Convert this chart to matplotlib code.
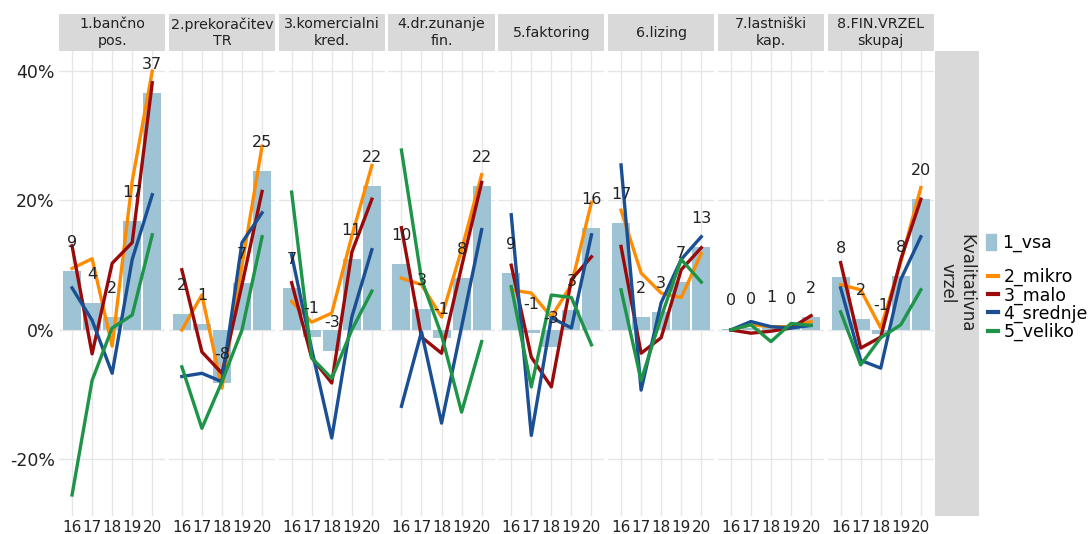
import numpy as np
import matplotlib.pyplot as plt
from matplotlib.patches import Patch
from matplotlib.lines import Line2D

plt.rcParams['font.family'] = ['DejaVu Sans']

# years on the x axis (20xx)
years = [16, 17, 18, 19, 20]

panels = ["1.bančno\npos.", "2.prekoračitev\nTR", "3.komercialni\nkred.",
          "4.dr.zunanje\nfin.", "5.faktoring", "6.lizing",
          "7.lastniški\nkap.", "8.FIN.VRZEL\nskupaj"]

# 1_vsa (bars), in %
vsa = [
    [9.1, 4.1, 2.0, 16.8, 36.6],
    [2.5, 0.9, -8.2, 7.3, 24.6],
    [6.5, -1.1, -3.2, 11.0, 22.3],
    [10.2, 3.3, -1.2, 8.0, 22.2],
    [8.8, -0.5, -2.6, 3.1, 15.7],
    [16.6, 2.0, 2.8, 7.4, 12.8],
    [0.2, 0.3, 0.6, 0.3, 2.0],
    [8.2, 1.7, -0.6, 8.4, 20.2],
]
# printed labels above the bars
vsa_labels = [
    [9, 4, 2, 17, 37],
    [2, 1, -8, 7, 25],
    [7, -1, -3, 11, 22],
    [10, 3, -1, 8, 22],
    [9, -1, -3, 3, 16],
    [17, 2, 3, 7, 13],
    [0, 0, 1, 0, 2],
    [8, 2, -1, 8, 20],
]

mikro = [
    [9.5, 11.0, -2.5, 23.0, 40.0],
    [0.0, 5.4, -9.0, 10.0, 28.4],
    [4.4, 1.2, 2.6, 14.5, 25.4],
    [8.0, 7.0, 2.0, 12.4, 24.0],
    [6.2, 5.7, 2.0, 7.0, 19.7],
    [18.5, 8.8, 5.7, 5.0, 11.8],
    [0.0, 0.8, 0.5, 0.5, 1.3],
    [7.0, 6.2, 0.3, 10.5, 22.0],
]
malo = [
    [13.0, -3.7, 10.3, 13.5, 38.2],
    [9.3, -3.4, -6.7, 7.0, 21.4],
    [7.3, -4.3, -8.2, 12.0, 20.2],
    [15.8, -1.1, -3.6, 9.8, 22.8],
    [10.0, -4.2, -8.8, 7.8, 11.3],
    [12.9, -3.6, -1.2, 9.3, 12.7],
    [0.0, -0.5, -0.2, 0.3, 2.2],
    [10.4, -2.8, -1.1, 10.9, 20.2],
]
srednje = [
    [6.5, 1.5, -6.7, 10.9, 20.9],
    [-7.2, -6.7, -8.0, 13.5, 18.1],
    [11.6, -3.0, -16.7, 2.0, 12.4],
    [-11.8, -0.3, -14.4, 0.5, 15.5],
    [17.8, -16.3, 1.9, 0.3, 14.7],
    [25.5, -9.3, 4.2, 10.9, 14.4],
    [0.0, 1.3, 0.5, 0.3, 0.7],
    [6.5, -4.7, -5.9, 7.8, 14.4],
]
veliko = [
    [-25.5, -7.8, 0.3, 2.3, 14.7],
    [-5.7, -15.2, -8.0, 0.0, 14.4],
    [21.3, -4.3, -7.5, 0.0, 6.0],
    [27.8, 7.8, -0.8, -12.7, -1.8],
    [6.7, -8.8, 5.4, 5.0, -2.3],
    [6.2, -7.8, 2.0, 10.9, 7.4],
    [0.0, 0.8, -1.8, 1.0, 0.7],
    [2.8, -5.4, -1.2, 0.8, 6.2],
]

series = [("2_mikro", mikro, "#FF8C00"),
          ("3_malo", malo, "#9B0A0A"),
          ("4_srednje", srednje, "#1A4F94"),
          ("5_veliko", veliko, "#1E9448")]
bar_color = "#9DC3D4"
strip_color = "#D9D9D9"
grid_color = "#E6E6E6"

W, H = 1088, 534
fig = plt.figure(figsize=(W / 100, H / 100), dpi=100)

x0, pw, gap = 59, 106.3, 3.5
ytop, ybot, strip_h = 51, 516, 37

for i, name in enumerate(panels):
    left = x0 + i * (pw + gap)
    ax = fig.add_axes([left / W, 1 - ybot / H, pw / W, (ybot - ytop) / H])
    ax.set_xlim(15.35, 20.65)
    ax.set_ylim(-28.75, 43.1)
    for s in ax.spines.values():
        s.set_visible(False)
    ax.set_axisbelow(True)
    ax.grid(True, color=grid_color, lw=1.0)
    ax.set_xticks(years)
    ax.set_xticklabels([str(y) for y in years], fontsize=11, color="#222222")
    ax.set_yticks([-20, 0, 20, 40])
    if i == 0:
        ax.set_yticklabels(["-20%", "0%", "20%", "40%"], fontsize=12.5, color="#222222")
    else:
        ax.set_yticklabels([])
    ax.tick_params(length=0, pad=3)

    ax.bar(years, vsa[i], width=0.9, color=bar_color, zorder=2)
    for lab, data, col in series:
        ax.plot(years, data[i], color=col, lw=2.4, zorder=3)
    for y, v, t in zip(years, vsa[i], vsa_labels[i]):
        ax.text(y, v + 4.4, str(t), ha='center', va='center', fontsize=11.5,
                color="#222222", zorder=5)

    sax = fig.add_axes([left / W, 1 - ytop / H, pw / W, strip_h / H])
    sax.set_facecolor(strip_color)
    sax.set_xticks([])
    sax.set_yticks([])
    for s in sax.spines.values():
        s.set_visible(False)
    sax.text(0.5, 0.5, name, ha='center', va='center', fontsize=10.3,
             color="#222222", linespacing=1.2, transform=sax.transAxes)

# right-hand strip
rax = fig.add_axes([935 / W, 1 - ybot / H, 44 / W, (ybot - ytop) / H])
rax.set_facecolor(strip_color)
rax.set_xticks([])
rax.set_yticks([])
for s in rax.spines.values():
    s.set_visible(False)
rax.text(0.5, 0.5, "Kvalitativna\nvrzel", rotation=270, ha='center', va='center',
         fontsize=12, color="#222222", linespacing=1.1, transform=rax.transAxes)

# legends
fig.legend(handles=[Patch(color=bar_color)], labels=["1_vsa"],
           loc='center left', bbox_to_anchor=(986 / W, 1 - 243 / H),
           frameon=False, fontsize=12.5, handlelength=0.6, handleheight=1.0,
           handletextpad=0.35, borderaxespad=0, borderpad=0)
handles = [Line2D([0], [0], color=c, lw=3) for _, _, c in series]
fig.legend(handles=handles, labels=[s[0] for s in series],
           loc='upper left', bbox_to_anchor=(988 / W, 1 - 268 / H),
           frameon=False, fontsize=12.5, handlelength=0.55, handletextpad=0.35,
           labelspacing=0.0, borderaxespad=0, borderpad=0)

fig.savefig("out.png", dpi=100)
